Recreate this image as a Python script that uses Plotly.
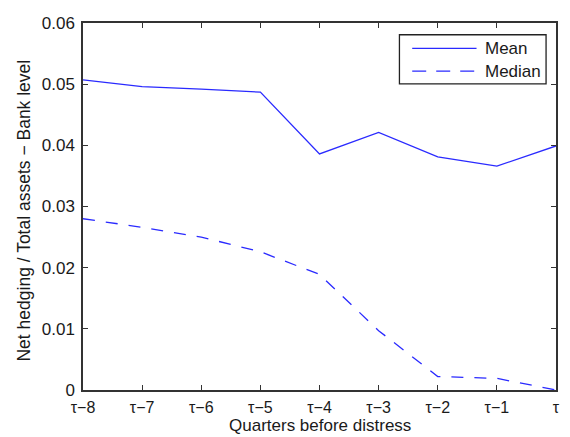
import plotly.graph_objects as go

quarters = ["τ−8", "τ−7", "τ−6", "τ−5", "τ−4", "τ−3", "τ−2", "τ−1", "τ"]
mean_vals = [0.0507, 0.0496, 0.0492, 0.0487, 0.0386, 0.0421, 0.0381, 0.0366, 0.0399]
median_vals = [0.0280, 0.0266, 0.0250, 0.0226, 0.0189, 0.0097, 0.0022, 0.0019, 0.0000]
series_names = ["Mean", "Median"]
y_ticks = [0, 0.01, 0.02, 0.03, 0.04, 0.05, 0.06]
y_tick_labels = ["0", "0.01", "0.02", "0.03", "0.04", "0.05", "0.06"]
x_title = "Quarters before distress"
y_title = "Net hedging / Total assets − Bank level"

x_idx = list(range(len(quarters)))
LINE_COLOR = "#2a2aff"
DASH = "12px,11px"
font_family = "Liberation Sans, Arial, sans-serif"
TEXT_COLOR = "#1a1a1a"
FS = 17

fig = go.Figure()
fig.add_trace(go.Scatter(x=x_idx, y=mean_vals, mode="lines", name=series_names[0],
                         line=dict(color=LINE_COLOR, width=1.3), showlegend=False))
fig.add_trace(go.Scatter(x=x_idx, y=median_vals, mode="lines", name=series_names[1],
                         line=dict(color=LINE_COLOR, width=1.3, dash=DASH), showlegend=False))

# manual legend box (MATLAB style)
fig.add_shape(type="rect", xref="paper", yref="paper", x0=0.669, x1=0.979, y0=0.834, y1=0.968,
              line=dict(color="#222", width=1.3), fillcolor="white", layer="above")
leg_y = [0.931, 0.869]
for i, name in enumerate(series_names):
    fig.add_shape(type="line", xref="paper", yref="paper", x0=0.696, x1=0.832,
                  y0=leg_y[i], y1=leg_y[i], layer="above",
                  line=dict(color=LINE_COLOR, width=1.3, dash=(None if i == 0 else "14px,10px")))
    fig.add_annotation(xref="paper", yref="paper", x=0.845, y=leg_y[i], text=name,
                       showarrow=False, xanchor="left", yanchor="middle",
                       font=dict(size=FS, color=TEXT_COLOR, family=font_family))

# axis titles
fig.add_annotation(xref="paper", yref="paper", x=0.5, y=-0.097, text=x_title,
                   showarrow=False, xanchor="center", yanchor="middle",
                   font=dict(size=FS, color=TEXT_COLOR, family=font_family))
fig.add_annotation(xref="paper", yref="paper", x=-0.124, y=0.49, text=y_title,
                   showarrow=False, xanchor="center", yanchor="middle", textangle=-90,
                   font=dict(size=17.5, color=TEXT_COLOR, family=font_family))

# page body has an 8px margin, so the figure is sized to fit inside the window
fig.update_layout(
    width=558, height=429,
    margin=dict(l=75, r=6, t=7, b=47),
    paper_bgcolor="white", plot_bgcolor="white",
    font=dict(family=font_family, size=FS, color=TEXT_COLOR),
    showlegend=False,
    xaxis=dict(tickmode="array", tickvals=x_idx, ticktext=quarters,
               range=[0, len(quarters) - 1], showgrid=False, zeroline=False,
               showline=True, linecolor="#333", linewidth=1.5, mirror="ticks",
               ticks="inside", ticklen=5, tickcolor="#333",
               tickfont=dict(size=16), ticklabelstandoff=2, ticklabeloverflow="allow"),
    yaxis=dict(tickmode="array", tickvals=y_ticks, ticktext=y_tick_labels,
               range=[0, 0.06], showgrid=False, zeroline=False,
               showline=True, linecolor="#333", linewidth=1.5, mirror="ticks",
               ticks="inside", ticklen=5, tickcolor="#333",
               tickfont=dict(size=FS), ticklabelstandoff=3, ticklabeloverflow="allow"),
)

fig.write_html("out.html")
